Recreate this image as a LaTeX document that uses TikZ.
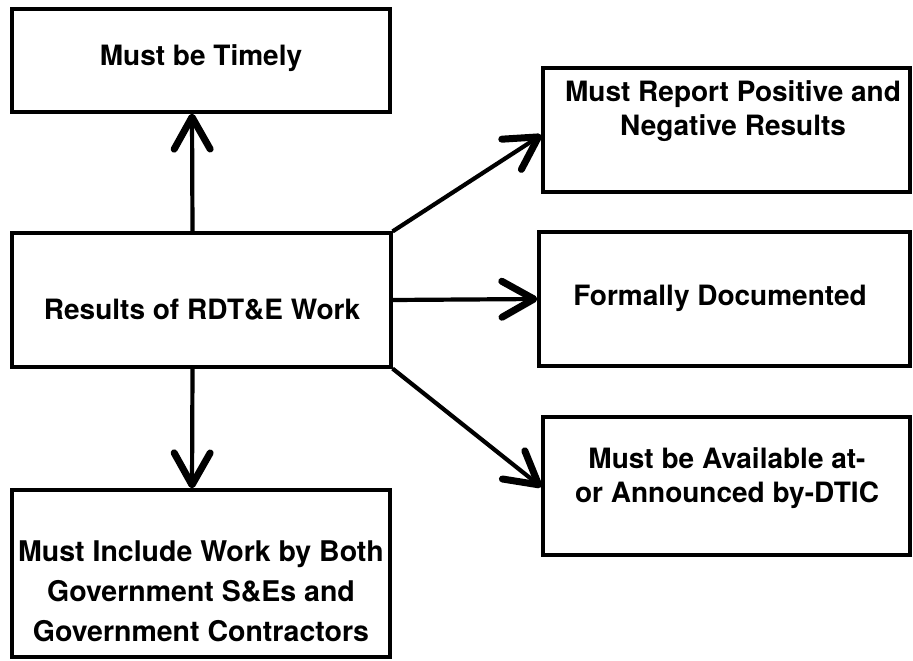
\documentclass[tikz,border=0pt]{standalone}
\usepackage{fontspec}
\setmainfont{TeX Gyre Heros}
\usetikzlibrary{arrows.meta}
\begin{document}
\begin{tikzpicture}[x=1pt,y=-1pt,
  box/.style={draw, line width=3.2pt, inner sep=0pt},
  txt/.style={font=\bfseries\fontsize{28}{34}\selectfont, align=center, inner sep=0pt},
  txtb/.style={font=\bfseries\fontsize{28.5}{40}\selectfont, align=center, inner sep=0pt},
  arr/.style={line width=4.2pt, -{Straight Barb[length=32pt,width=36pt,line width=7pt,round]}}]
\useasboundingbox (0,0) rectangle (913,661);
% boxes
\node[box, minimum width=378pt, minimum height=103pt] (timely) at (201,60.5) {};
\node[box, minimum width=379pt, minimum height=134pt] (results) at (201.5,300) {};
\node[box, minimum width=378pt, minimum height=167pt] (include) at (201,573.5) {};
\node[box, minimum width=367pt, minimum height=124pt] (report) at (726.5,130) {};
\node[box, minimum width=371pt, minimum height=134pt] (formal) at (724.5,299) {};
\node[box, minimum width=367pt, minimum height=138pt] (avail) at (726.5,486) {};
% texts
\node[txt] (timelyt) at (201,58) {Must be Timely};
\node[txt] (resultst) at (202,310) {Results of RDT\&E Work};
\node[txtb] (includet) at (201,591) {Must Include Work by Both\\Government S\&Es and\\Government Contractors};
\node[txt] (reportt) at (733,111) {Must Report Positive and\\Negative Results};
\node[txt] (formalt) at (720,298.5) {Formally Documented};
\node[txt] (availt) at (727,478) {Must be Available at-\\or Announced by-DTIC};
% connectors
\draw[arr] ([xshift=-9pt]results.north) -- ([xshift=-9pt]timely.south);
\draw[arr] ([xshift=-9pt]results.south) -- ([xshift=-9pt]include.north);
\draw[arr] (results.north east) -- ([yshift=-5pt]report.west);
\draw[arr] (results.east) -- (formal.west);
\draw[arr] (results.south east) -- ([yshift=-1pt]avail.west);
\end{tikzpicture}
\end{document}
